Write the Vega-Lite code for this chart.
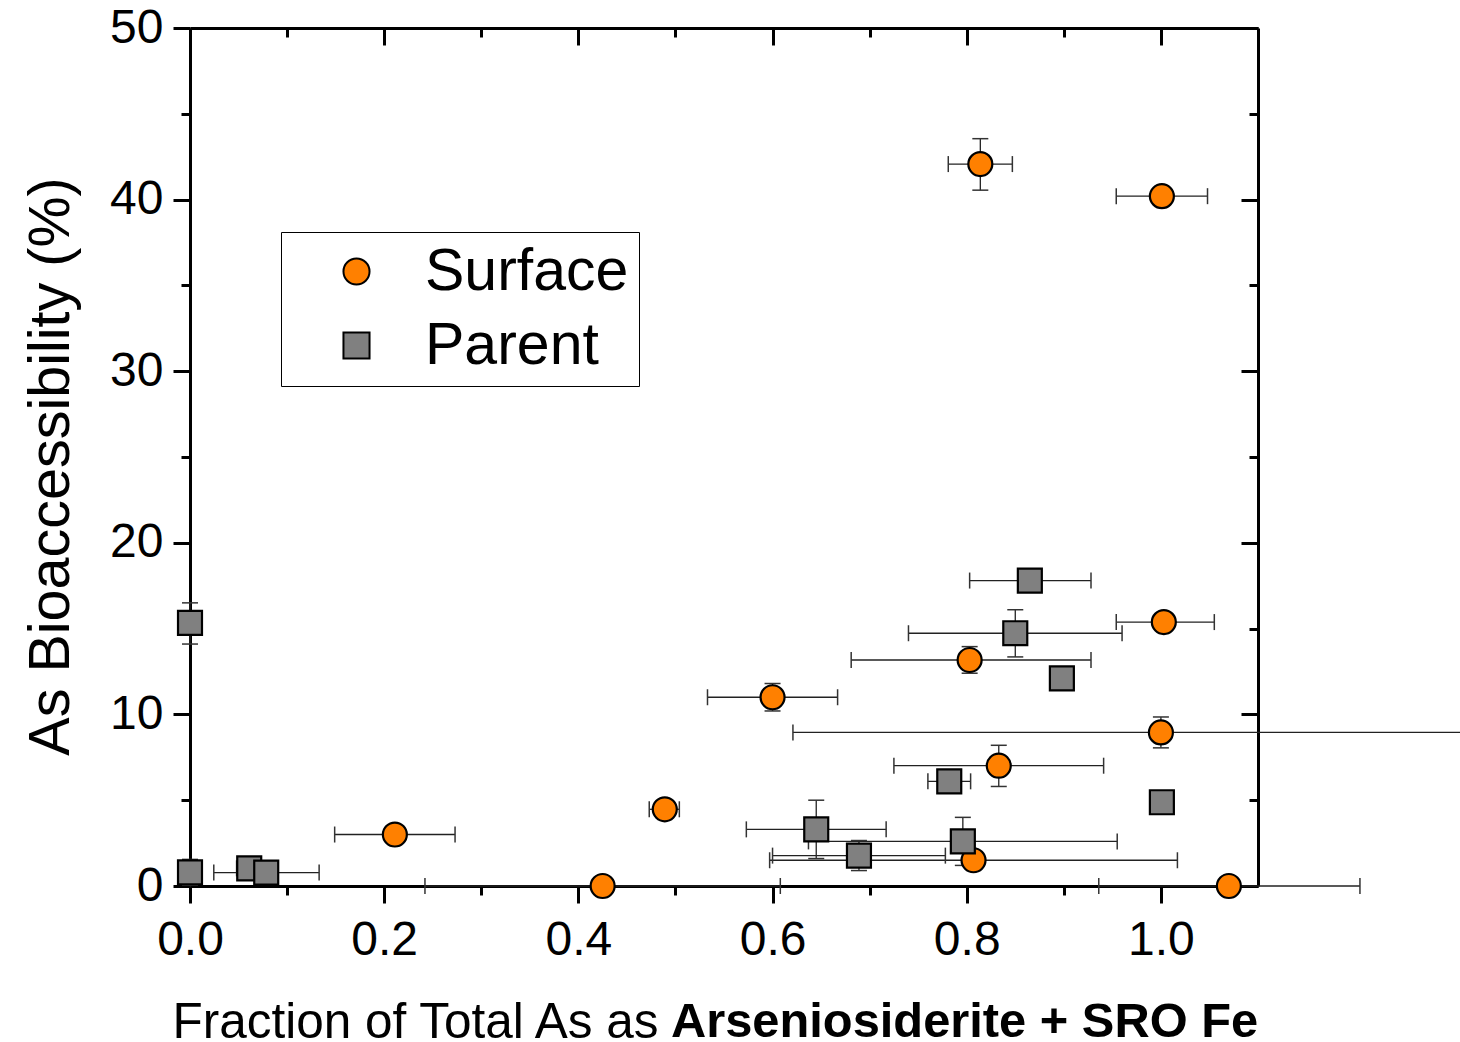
{
  "$schema": "https://vega.github.io/schema/vega-lite/v6.json",
  "autosize": {"type": "none"},
  "padding": {"left": 190, "top": 28, "right": 202, "bottom": 156},
  "width": 1068,
  "height": 858,
  "background": "white",
  "title": {"text": "Arseniosiderite + SRO Fe", "orient": "bottom", "anchor": "start", "frame": "group", "dx": 481, "offset": -10, "baseline": "alphabetic", "font": "Liberation Sans", "fontSize": 48.8, "fontWeight": "bold", "color": "black"},
  "data": {"values": [
    {"series": "Surface", "x": 0.814, "y": 42.07, "xlo": 0.781, "xhi": 0.847, "ylo": 40.55, "yhi": 43.55},
    {"series": "Surface", "x": 1.001, "y": 40.2, "xlo": 0.954, "xhi": 1.048, "ylo": null, "yhi": null},
    {"series": "Surface", "x": 1.003, "y": 15.38, "xlo": 0.954, "xhi": 1.055, "ylo": null, "yhi": null},
    {"series": "Surface", "x": 0.803, "y": 13.17, "xlo": 0.681, "xhi": 0.928, "ylo": 12.4, "yhi": 13.95},
    {"series": "Surface", "x": 0.600, "y": 11.0, "xlo": 0.533, "xhi": 0.667, "ylo": 10.2, "yhi": 11.8},
    {"series": "Surface", "x": 1.000, "y": 8.95, "xlo": 0.621, "xhi": 1.379, "ylo": 8.05, "yhi": 9.85},
    {"series": "Surface", "x": 0.833, "y": 7.01, "xlo": 0.725, "xhi": 0.941, "ylo": 5.8, "yhi": 8.2},
    {"series": "Surface", "x": 0.489, "y": 4.47, "xlo": 0.473, "xhi": 0.504, "ylo": 4.1, "yhi": 4.85},
    {"series": "Surface", "x": 0.211, "y": 3.0, "xlo": 0.149, "xhi": 0.273, "ylo": 2.8, "yhi": 3.2},
    {"series": "Surface", "x": 0.807, "y": 1.5, "xlo": 0.597, "xhi": 1.017, "ylo": 1.05, "yhi": 1.9},
    {"series": "Surface", "x": 0.425, "y": 0.0, "xlo": 0.242, "xhi": 0.608, "ylo": -0.5, "yhi": 0.5},
    {"series": "Surface", "x": 1.070, "y": 0.0, "xlo": 0.936, "xhi": 1.205, "ylo": -0.4, "yhi": 0.4},
    {"series": "Parent", "x": 0.0, "y": 15.33, "xlo": null, "xhi": null, "ylo": 14.1, "yhi": 16.5},
    {"series": "Parent", "x": 0.0, "y": 0.8, "xlo": null, "xhi": null, "ylo": 0.05, "yhi": 1.55},
    {"series": "Parent", "x": 0.061, "y": 1.03, "xlo": 0.048, "xhi": 0.074, "ylo": null, "yhi": null},
    {"series": "Parent", "x": 0.0785, "y": 0.78, "xlo": 0.0245, "xhi": 0.133, "ylo": null, "yhi": null},
    {"series": "Parent", "x": 0.645, "y": 3.3, "xlo": 0.573, "xhi": 0.717, "ylo": 1.6, "yhi": 5.0},
    {"series": "Parent", "x": 0.689, "y": 1.77, "xlo": 0.600, "xhi": 0.778, "ylo": 0.9, "yhi": 2.65},
    {"series": "Parent", "x": 0.796, "y": 2.6, "xlo": 0.637, "xhi": 0.955, "ylo": 1.2, "yhi": 4.0},
    {"series": "Parent", "x": 0.782, "y": 6.1, "xlo": 0.760, "xhi": 0.804, "ylo": null, "yhi": null},
    {"series": "Parent", "x": 0.865, "y": 17.8, "xlo": 0.803, "xhi": 0.928, "ylo": null, "yhi": null},
    {"series": "Parent", "x": 0.850, "y": 14.73, "xlo": 0.740, "xhi": 0.960, "ylo": 13.35, "yhi": 16.1},
    {"series": "Parent", "x": 0.898, "y": 12.1, "xlo": null, "xhi": null, "ylo": null, "yhi": null},
    {"series": "Parent", "x": 1.001, "y": 4.88, "xlo": null, "xhi": null, "ylo": null, "yhi": null}
  ]},
  "resolve": {"axis": {"x": "independent", "y": "independent"}},
  "layer": [
    {
      "transform": [{"filter": "datum.xlo != null"}],
      "mark": {"type": "rule", "color": "#222", "strokeWidth": 1.3, "clip": false},
      "encoding": {
        "x": {"field": "xlo", "type": "quantitative", "scale": {"domain": [0, 1.1], "nice": false, "zero": false},
          "axis": {"orient": "top", "values": [0, 0.1, 0.2, 0.3, 0.4, 0.5, 0.6, 0.7, 0.8, 0.9, 1.0], "labels": false, "title": null, "domainWidth": 3, "domainColor": "black", "tickColor": "black", "tickWidth": 3,
            "tickSize": {"condition": {"test": "round(datum.value*10)%2==0", "value": -17}, "value": -9}, "grid": false}},
        "x2": {"field": "xhi"},
        "y": {"field": "y", "type": "quantitative", "scale": {"domain": [0, 50], "nice": false, "zero": false},
          "axis": {"orient": "right", "values": [0, 5, 10, 15, 20, 25, 30, 35, 40, 45, 50], "labels": false, "title": null, "domainWidth": 3, "domainColor": "black", "tickColor": "black", "tickWidth": 3,
            "tickSize": {"condition": {"test": "datum.value%10==0", "value": -17}, "value": -9}, "grid": false}}
      }
    },
    {
      "transform": [{"filter": "datum.ylo != null"}],
      "mark": {"type": "rule", "color": "#222", "strokeWidth": 1.3, "clip": false},
      "encoding": {
        "x": {"field": "x", "type": "quantitative", "scale": {"domain": [0, 1.1], "nice": false, "zero": false}, "axis": null},
        "y": {"field": "ylo", "type": "quantitative", "scale": {"domain": [0, 50], "nice": false, "zero": false}, "axis": null},
        "y2": {"field": "yhi"}
      }
    },
    {
      "transform": [{"filter": "datum.xlo != null"}],
      "mark": {"type": "tick", "orient": "vertical", "color": "#333", "size": 16, "thickness": 1.5, "opacity": 1, "clip": false},
      "encoding": {
        "x": {"field": "xlo", "type": "quantitative", "scale": {"domain": [0, 1.1], "nice": false, "zero": false}, "axis": null},
        "y": {"field": "y", "type": "quantitative", "scale": {"domain": [0, 50], "nice": false, "zero": false}, "axis": null}
      }
    },
    {
      "transform": [{"filter": "datum.xhi != null"}],
      "mark": {"type": "tick", "orient": "vertical", "color": "#333", "size": 16, "thickness": 1.5, "opacity": 1, "clip": false},
      "encoding": {
        "x": {"field": "xhi", "type": "quantitative", "scale": {"domain": [0, 1.1], "nice": false, "zero": false}, "axis": null},
        "y": {"field": "y", "type": "quantitative", "scale": {"domain": [0, 50], "nice": false, "zero": false}, "axis": null}
      }
    },
    {
      "transform": [{"filter": "datum.ylo != null"}],
      "mark": {"type": "tick", "orient": "horizontal", "color": "#333", "size": 16, "thickness": 1.5, "opacity": 1, "clip": false},
      "encoding": {
        "x": {"field": "x", "type": "quantitative", "scale": {"domain": [0, 1.1], "nice": false, "zero": false}, "axis": null},
        "y": {"field": "ylo", "type": "quantitative", "scale": {"domain": [0, 50], "nice": false, "zero": false}, "axis": null}
      }
    },
    {
      "transform": [{"filter": "datum.yhi != null"}],
      "mark": {"type": "tick", "orient": "horizontal", "color": "#333", "size": 16, "thickness": 1.5, "opacity": 1, "clip": false},
      "encoding": {
        "x": {"field": "x", "type": "quantitative", "scale": {"domain": [0, 1.1], "nice": false, "zero": false}, "axis": null},
        "y": {"field": "yhi", "type": "quantitative", "scale": {"domain": [0, 50], "nice": false, "zero": false}, "axis": null}
      }
    },
    {
      "mark": {"type": "point", "filled": true, "strokeWidth": 2.2, "opacity": 1, "size": 575, "clip": false},
      "encoding": {
        "x": {"field": "x", "type": "quantitative", "scale": {"domain": [0, 1.1], "nice": false, "zero": false},
          "axis": {"orient": "bottom", "values": [0, 0.1, 0.2, 0.3, 0.4, 0.5, 0.6, 0.7, 0.8, 0.9, 1.0],
            "labelExpr": "round(datum.value*10)%2==0 ? format(datum.value,'.1f') : ''",
            "labelFlush": false, "labelOverlap": false, "labelFontSize": 48, "labelFont": "Liberation Sans", "labelColor": "black", "labelPadding": 13,
            "domainWidth": 3, "domainColor": "black", "tickColor": "black", "tickWidth": 3,
            "tickSize": {"condition": {"test": "round(datum.value*10)%2==0", "value": 17}, "value": 9},
            "grid": false,
            "title": "Fraction of Total As as", "titleFont": "Liberation Sans", "titleFontSize": 49.5, "titleFontWeight": "normal", "titleColor": "black",
            "titleX": -18, "titleY": 151, "titleAlign": "left", "titleBaseline": "alphabetic"}},
        "y": {"field": "y", "type": "quantitative", "scale": {"domain": [0, 50], "nice": false, "zero": false},
          "axis": {"orient": "left", "values": [0, 5, 10, 15, 20, 25, 30, 35, 40, 45, 50],
            "labelExpr": "datum.value%10==0 ? datum.value : ''",
            "labelFlush": false, "labelOverlap": false, "labelFontSize": 48, "labelFont": "Liberation Sans", "labelColor": "black", "labelPadding": 10,
            "domainWidth": 3, "domainColor": "black", "tickColor": "black", "tickWidth": 3,
            "tickSize": {"condition": {"test": "datum.value%10==0", "value": 17}, "value": 9},
            "grid": false,
            "title": "As Bioaccessibility (%)", "titleFont": "Liberation Sans", "titleFontSize": 57.5, "titleFontWeight": "normal", "titleColor": "black",
            "titleX": -122, "titleY": 438, "titleAngle": -90, "titleAlign": "center", "titleBaseline": "alphabetic"}},
        "color": {"field": "series", "type": "nominal", "scale": {"domain": ["Surface", "Parent"], "range": ["#FF8000", "#808080"]}},
        "stroke": {"field": "series", "type": "nominal", "scale": {"domain": ["Surface", "Parent"], "range": ["black", "black"]}},
        "shape": {"field": "series", "type": "nominal", "scale": {"domain": ["Surface", "Parent"], "range": ["circle", "square"]}}
      }
    }
  ],
  "config": {
    "view": {"stroke": null},
    "legend": {
      "orient": "none", "legendX": 91, "legendY": 204, "title": null,
      "strokeColor": "black", "strokeWidth": 1, "fillColor": "white", "padding": 10, "cornerRadius": 0,
      "labelFont": "Liberation Sans", "labelFontSize": 59, "labelColor": "black", "labelLimit": 400,
      "symbolSize": 680, "symbolStrokeWidth": 2, "symbolOpacity": 1,
      "symbolOffset": 36, "labelOffset": 39, "rowPadding": 14
    }
  }
}
